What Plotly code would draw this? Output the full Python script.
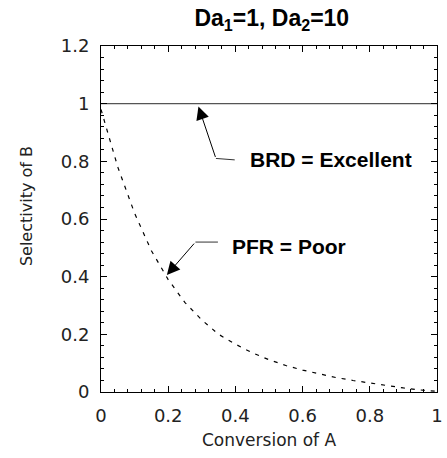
import plotly.graph_objects as go

# conversion of A and selectivity of B
conversion = [0.0, 0.05, 0.1, 0.15, 0.2, 0.25, 0.3, 0.35, 0.4, 0.45, 0.5,
              0.55, 0.6, 0.65, 0.7, 0.75, 0.8, 0.85, 0.9, 0.95, 1.0]
pfr_selectivity = [0.98, 0.78, 0.62, 0.49, 0.39, 0.31, 0.25, 0.2, 0.166, 0.136, 0.112,
                   0.092, 0.076, 0.062, 0.05, 0.04, 0.031, 0.022, 0.014, 0.007, 0.002]
brd_x = [0.0, 1.0]
brd_selectivity = [1.0, 1.0]

font = "DejaVu Sans, sans-serif"
bold_font = "Liberation Sans, Arial, sans-serif"

fig = go.Figure()
fig.add_trace(go.Scatter(x=brd_x, y=brd_selectivity, mode="lines",
                         line=dict(color="#555555", width=1.3)))
fig.add_trace(go.Scatter(x=conversion, y=pfr_selectivity, mode="lines",
                         line=dict(color="black", width=1.2, dash="4px,6px")))

# leader lines with arrows
fig.add_shape(type="line", x0=0.398, y0=0.805, x1=0.342, y1=0.81,
              line=dict(color="#333333", width=1))
fig.add_annotation(x=0.29, y=0.99, ax=0.342, ay=0.81, axref="x", ayref="y",
                   text="", showarrow=True, arrowhead=2, arrowsize=2.6,
                   arrowwidth=1, arrowcolor="black")
fig.add_annotation(x=0.436, y=0.805, text="<b>BRD = Excellent</b>", showarrow=False,
                   xanchor="left", font=dict(family=bold_font, size=21, color="black"))

fig.add_shape(type="line", x0=0.348, y0=0.52, x1=0.281, y1=0.52,
              line=dict(color="#333333", width=1))
fig.add_annotation(x=0.196, y=0.406, ax=0.281, ay=0.52, axref="x", ayref="y",
                   text="", showarrow=True, arrowhead=2, arrowsize=2.6,
                   arrowwidth=1, arrowcolor="black")
fig.add_annotation(x=0.383, y=0.503, text="<b>PFR = Poor</b>", showarrow=False,
                   xanchor="left", font=dict(family=bold_font, size=21, color="black"))

# axis titles
fig.add_annotation(x=0.5, y=-0.139, xref="paper", yref="paper", text="Conversion of A",
                   showarrow=False, xanchor="center", yanchor="middle",
                   font=dict(family=font, size=17, color="#222222"))
fig.add_annotation(x=-0.22, y=0.5376, xref="paper", yref="paper", text="Selectivity of B",
                   showarrow=False, xanchor="center", yanchor="middle", textangle=-90,
                   font=dict(family=font, size=16, color="#222222"))

axis_style = dict(showline=True, linecolor="black", linewidth=1, mirror="ticks",
                  ticks="inside", ticklen=6, tickcolor="black", showgrid=False,
                  zeroline=False, ticklabelstandoff=7, ticklabeloverflow="allow",
                  tickfont=dict(family=font, size=18, color="#222222"))

fig.update_xaxes(range=[0, 1], dtick=0.2,
                 minor=dict(dtick=0.04, ticks="inside", ticklen=3, tickcolor="black"),
                 **axis_style)
fig.update_yaxes(range=[0, 1.2], dtick=0.2,
                 minor=dict(dtick=0.04, ticks="inside", ticklen=3, tickcolor="black"),
                 **axis_style)

fig.update_layout(
    width=447, height=458,
    margin=dict(l=101, r=4, t=46, b=66),
    paper_bgcolor="white", plot_bgcolor="white",
    showlegend=False,
    title=dict(text="<b>Da<sub>1</sub>=1, Da<sub>2</sub>=10</b>", x=0.608, xanchor="center",
               y=0.978, yanchor="top", font=dict(family=bold_font, size=23, color="black")),
)

fig.write_html("out.html", config={"displayModeBar": False},
               post_script="document.body.style.margin='0px';")
